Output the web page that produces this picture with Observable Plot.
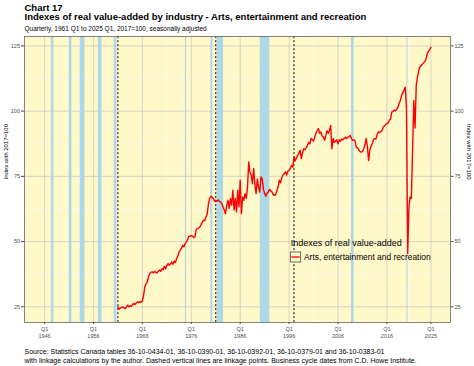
<!DOCTYPE html>
<html>
<head>
<meta charset="utf-8">
<script src="https://cdn.jsdelivr.net/npm/d3@7"></script>
<script src="https://cdn.jsdelivr.net/npm/@observablehq/plot@0.6"></script>
<style>
  body { margin: 0; background: #ffffff; }
  #wrap { position: relative; width: 474px; height: 366px; font-family: "Liberation Sans", Arial, sans-serif; }
  #wrap > svg { position: absolute; left: 0; top: 0; }
</style>
</head>
<body>
<div id="wrap"></div>
<script>
// ---- Data ----
const chartNumber = "Chart 17";
const chartTitle = "Indexes of real value-added by industry - Arts, entertainment and recreation";
const chartSubtitle = "Quarterly, 1961 Q1 to 2025 Q1, 2017=100, seasonally adjusted";
const captionLines = [
  "Source: Statistics Canada tables 36-10-0434-01, 36-10-0390-01, 36-10-0392-01, 36-10-0379-01 and 36-10-0383-01",
  "with linkage calculations by the author. Dashed vertical lines are linkage points. Business cycle dates from C.D. Howe Institute."
];
const yAxisTitle = "Index with 2017=100";
const legendTitle = "Indexes of real value-added";
const seriesName = "Arts, entertainment and recreation";

const startYear = 1961; // first quarter is 1961 Q1
const values = [
  25.0, 24.1, 24.5, 24.8,   // 1961
  25.0, 24.6, 24.3, 25.0,   // 1962
  25.6, 25.0, 25.4, 25.2,   // 1963
  25.8, 26.3, 25.9, 26.5,   // 1964
  26.9, 26.6, 27.0, 26.8,   // 1965
  27.2, 29.5, 32.7, 33.8,   // 1966
  34.6, 36.5, 37.8, 38.3,   // 1967
  38.4, 38.0, 38.6, 38.2,   // 1968
  38.0, 38.7, 39.1, 38.6,   // 1969
  39.6, 39.2, 40.6, 39.6,   // 1970
  40.8, 41.6, 40.9, 41.5,   // 1971
  42.2, 41.3, 42.5, 42.0,   // 1972
  43.5, 44.5, 46.0, 46.7,   // 1973
  47.5, 48.6, 48.0, 49.3,   // 1974
  49.9, 50.8, 52.1, 52.0,   // 1975
  52.3, 52.1, 51.6, 51.8,   // 1976
  54.6, 55.0, 55.2, 55.6,   // 1977
  56.5, 57.5, 58.2, 58.0,   // 1978
  59.4, 60.5, 64.3, 66.5,   // 1979
  67.4, 67.0, 66.5, 65.5,   // 1980
  65.8, 65.5, 66.0, 65.4,   // 1981
  65.2, 64.5, 63.3, 62.1,   // 1982
  60.7, 63.9, 65.8, 62.7,   // 1983
  66.5, 64.0, 69.7, 62.1,   // 1984
  66.5, 61.4, 69.7, 63.3,   // 1985
  73.5, 60.7, 67.1, 65.8,   // 1986
  68.4, 66.5, 71.0, 80.5,   // 1987
  76.5, 75.6, 72.2, 78.0,   // 1988
  72.0, 68.4, 74.0, 71.0,   // 1989
  69.0, 74.8, 74.1, 70.0,   // 1990
  68.4, 67.4, 68.5, 69.0,   // 1991
  70.0, 69.5, 69.0, 68.0,   // 1992
  67.7, 68.0, 69.5, 71.0,   // 1993
  73.5, 72.5, 74.5, 75.5,   // 1994
  76.0, 76.7, 75.5, 77.0,   // 1995
  77.3, 78.0, 79.2, 78.5,   // 1996
  82.4, 81.0, 82.0, 83.0,   // 1997
  83.9, 85.0, 81.8, 84.0,   // 1998
  85.6, 85.2, 86.0, 86.9,   // 1999
  88.0, 87.5, 89.5, 89.0,   // 2000
  88.5, 90.1, 91.5, 92.5,   // 2001
  93.3, 91.5, 92.0, 90.5,   // 2002
  90.1, 88.8, 90.5, 92.5,   // 2003
  91.5, 92.5, 94.5, 85.6,   // 2004
  89.5, 88.0, 88.5, 89.0,   // 2005
  87.5, 89.0, 88.5, 89.3,   // 2006
  89.0, 89.5, 90.0, 89.5,   // 2007
  90.0, 90.3, 90.7, 89.5,   // 2008
  88.8, 89.0, 88.5, 86.0,   // 2009
  86.0, 85.2, 84.5, 84.3,   // 2010
  84.5, 85.5, 87.0, 89.5,   // 2011
  86.5, 81.1, 85.0, 86.5,   // 2012
  87.5, 89.1, 89.5, 89.3,   // 2013
  91.0, 92.0, 91.8, 92.2,   // 2014
  92.5, 93.9, 94.3, 94.8,   // 2015
  95.2, 95.5, 96.5, 97.0,   // 2016
  99.6, 99.9, 100.4, 100.1, // 2017
  100.7, 101.5, 103.0, 104.1, // 2018
  106.0, 107.0, 108.0, 109.2, // 2019
  101.0, 45.4, 63.3, 67.1,  // 2020
  66.5, 85.0, 104.1, 93.5,  // 2021
  110.0, 113.0, 115.5, 117.0, // 2022
  117.5, 118.0, 118.5, 119.0, // 2023
  120.0, 122.0, 123.0, 123.5, // 2024
  124.5                     // 2025 Q1
];

// Recession periods (C.D. Howe), decimal years
const recessionStarts = [1947.4, 1951.05, 1953.3, 1957.0, 1960.25, 1974.8, 1980.0, 1981.25, 1990.1, 2008.75, 2020.1];
const recessionEnds   = [1947.9, 1951.6, 1954.25, 1957.75, 1960.8, 1975.05, 1980.4, 1982.6, 1992.05, 2009.3, 2020.3];

// Linkage points (dashed lines)
const linkagePoints = [1961.0, 1981.0, 1997.0];

// Axis ticks
const xTickYears = [1946, 1956, 1966, 1976, 1986, 1996, 2006, 2016, 2025];
const xMinorYears = [1951, 1961, 1971, 1981, 1991, 2001, 2011, 2020.5];
const yTicks = [25, 50, 75, 100, 125];
const yMinor = [37.5, 62.5, 87.5, 112.5];

// ---- Build tables ----
const series = values.map((v, i) => ({t: startYear + i / 4, v}));
const recessions = recessionStarts.map((s, i) => ({start: s, end: recessionEnds[i]}));

const font = "Liberation Sans, Arial, sans-serif";
const tickFmt = (d) => `Q1\n${d}`;

const chart = Plot.plot({
  width: 474,
  height: 366,
  marginLeft: 24,
  marginRight: 24,
  marginTop: 36,
  marginBottom: 44,
  style: {fontFamily: font, fontSize: "5.5px", background: "#ffffff", overflow: "visible"},
  x: {domain: [1941.9, 2029.0]},
  y: {domain: [19, 128.6]},
  marks: [
    Plot.frame({fill: "#FFF8C8", stroke: null}),
    Plot.gridX(xMinorYears, {stroke: "#ffffff", strokeOpacity: 1, strokeWidth: 0.5}),
    Plot.gridY(yMinor, {stroke: "#ffffff", strokeOpacity: 1, strokeWidth: 0.5}),
    Plot.gridX(xTickYears, {stroke: "#c6c6c6", strokeOpacity: 1, strokeWidth: 0.7}),
    Plot.gridY(yTicks, {stroke: "#c6c6c6", strokeOpacity: 1, strokeWidth: 0.7}),
    Plot.rect(recessions, {x1: "start", x2: "end", fill: "#ADD8E6"}),
    Plot.ruleX(linkagePoints, {stroke: "#000000", strokeWidth: 0.9, strokeDasharray: "2.2,1.8"}),
    Plot.line(series, {x: "t", y: "v", stroke: "#ff0000", strokeWidth: 1.4}),
    Plot.frame({stroke: "#666666", strokeWidth: 0.8}),
    Plot.axisX(xTickYears, {tickFormat: tickFmt, tickSize: 2, tickPadding: 1, color: "#4d4d4d", fontSize: 5.5, lineHeight: 1.35, label: null}),
    Plot.axisY(yTicks, {anchor: "left", tickSize: 3, tickPadding: 1.5, color: "#4d4d4d", fontSize: 5.5, label: null}),
    Plot.axisY(yTicks, {anchor: "right", tickSize: 2.5, tickPadding: 1.5, color: "#4d4d4d", fontSize: 5.5, label: null}),
    // axis titles
    Plot.text([yAxisTitle], {frameAnchor: "left", dx: -18, rotate: -90, fontSize: 6, fill: "#000000"}),
    Plot.text([yAxisTitle], {frameAnchor: "right", dx: 18, rotate: 90, fontSize: 6, fill: "#000000"}),
    // titles
    Plot.text([chartNumber], {frameAnchor: "top-left", textAnchor: "start", lineAnchor: "bottom", dy: -26, fontSize: 9.5, fontWeight: "bold", fill: "#000000"}),
    Plot.text([chartTitle], {frameAnchor: "top-left", textAnchor: "start", lineAnchor: "bottom", dy: -16.5, fontSize: 9.5, fontWeight: "bold", fill: "#000000"}),
    Plot.text([chartSubtitle], {frameAnchor: "top-left", textAnchor: "start", lineAnchor: "bottom", dy: -5.3, fontSize: 6.5, fill: "#000000"}),
    // caption
    Plot.text([captionLines[0]], {frameAnchor: "bottom-left", textAnchor: "start", lineAnchor: "bottom", dy: 31.6, fontSize: 7.0, fill: "#000000"}),
    Plot.text([captionLines[1]], {frameAnchor: "bottom-left", textAnchor: "start", lineAnchor: "bottom", dy: 40.0, fontSize: 7.0, fill: "#000000"})
  ]
});

const wrap = document.getElementById("wrap");
wrap.appendChild(chart);

// ---- Legend (overlay) ----
const legend = d3.create("svg")
  .attr("width", 474).attr("height", 366)
  .style("pointer-events", "none")
  .style("font-family", font);
legend.append("text").attr("x", 290.7).attr("y", 246).attr("font-size", 9).attr("fill", "#000").text(legendTitle);
legend.append("rect").attr("x", 290.3).attr("y", 252).attr("width", 10.4).attr("height", 10)
  .attr("fill", "#FFF8C8").attr("stroke", "#333").attr("stroke-width", 0.7);
legend.append("line").attr("x1", 291.3).attr("x2", 299.7).attr("y1", 257).attr("y2", 257)
  .attr("stroke", "#ff0000").attr("stroke-width", 1.3);
legend.append("text").attr("x", 304).attr("y", 260).attr("font-size", 8.4).attr("fill", "#000").text(seriesName);
wrap.appendChild(legend.node());
</script>
</body>
</html>
